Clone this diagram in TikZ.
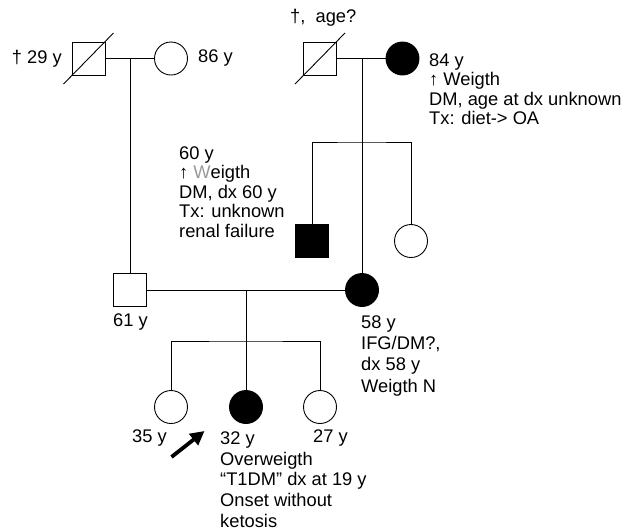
\documentclass[tikz,border=0pt]{standalone}
\usepackage{fontspec}
\setmainfont{Liberation Sans}
\usetikzlibrary{arrows.meta,calc}
\begin{document}
\begin{tikzpicture}[x=1pt,y=-1pt,
  male/.style={draw,line width=0.9pt,minimum size=33pt,inner sep=0pt,rectangle},
  female/.style={draw,line width=0.9pt,minimum size=33pt,inner sep=0pt,circle},
  aff/.style={fill=black},
  link/.style={line width=0.9pt},
  lbl/.style={font=\fontsize{18.3}{20}\selectfont,inner sep=0pt,align=left},
  probarrow/.style={line width=3.8pt,-{Triangle[length=14pt,width=14pt]}},
]
\useasboundingbox (0,0) rectangle (635,531);
% persons
\node[male] (gf1) at (88.5,58.5) {};
\node[female] (gm1) at (171,58.5) {};
\node[male] (gf2) at (320,58.5) {};
\node[female,aff] (gm2) at (402.5,58.5) {};
\node[male,aff] (unc) at (312,241) {};
\node[female] (aunt) at (411,241) {};
\node[male] (fa) at (130,290) {};
\node[female,aff] (mo) at (362,290) {};
\node[female] (s1) at (171,407) {};
\node[female,aff] (pro) at (246,407) {};
\node[female] (s3) at (320,407) {};
% deceased marks
\draw[link] ($(gf1.center)+(-25,25.5)$) -- ($(gf1.center)+(25,-25.5)$);
\draw[link] ($(gf2.center)+(-25,25.5)$) -- ($(gf2.center)+(25,-25.5)$);
% family 1
\coordinate (m1) at (130,58.5);
\draw[link] (gf1.east) -- (gm1.west);
\draw[link] (m1) -- (fa.north);
% family 2
\coordinate (m2) at (362,58.5);
\coordinate (sib2) at (362,142);
\draw[link] (gf2.east) -- (gm2.west);
\draw[link] (m2) -- (mo.north);
\draw[link] (unc.north) |- (sib2) -| (aunt.north);
% family 3
\coordinate (m3) at (246,290);
\coordinate (sib3) at (246,341);
\draw[link] (fa.east) -- (mo.west);
\draw[link] (m3) -- (pro.north);
\draw[link] (s1.north) |- (sib3) -| (s3.north);
% proband arrow
\coordinate (arrS) at (171.5,457);
\coordinate (arrE) at (204.5,431);
\draw[probarrow] (arrS) -- (arrE);
% labels
\node[lbl,anchor=east] (lgf1) at (62,58.5) {† 29 y};
\node[lbl,anchor=west] (lgm1) at (198,58.5) {86 y};
\node[lbl,anchor=west] (lgf2) at (290,18) {†,\ \ age?};
\node[lbl,anchor=north west,font=\fontsize{18.3}{19.5}\selectfont] (lgm2) at (429,53.4) {84 y\\↑ Weigth\\DM, age at dx unknown\\Tx: diet-> OA};
\node[lbl,anchor=north west,font=\fontsize{18.3}{19.5}\selectfont] (lunc) at (179,146.4) {60 y\\↑ {\color[gray]{0.6}W}eigth\\DM, dx 60 y\\Tx: unknown\\renal failure};
\node[lbl,anchor=west] (lfa) at (113,322) {61 y};
\node[lbl,anchor=north west,font=\fontsize{18.3}{21.3}\selectfont] (lmo) at (361,315.4) {58 y\\IFG/DM?,\\dx 58 y\\Weigth N};
\node[lbl,anchor=west] (ls1) at (132,438) {35 y};
\node[lbl,anchor=north west,font=\fontsize{18.3}{20.7}\selectfont] (lpro) at (220,431.4) {32 y\\Overweigth\\“T1DM” dx at 19 y\\Onset without\\ketosis};
\node[lbl,anchor=west] (ls3) at (313,438) {27 y};
\end{tikzpicture}
\end{document}
